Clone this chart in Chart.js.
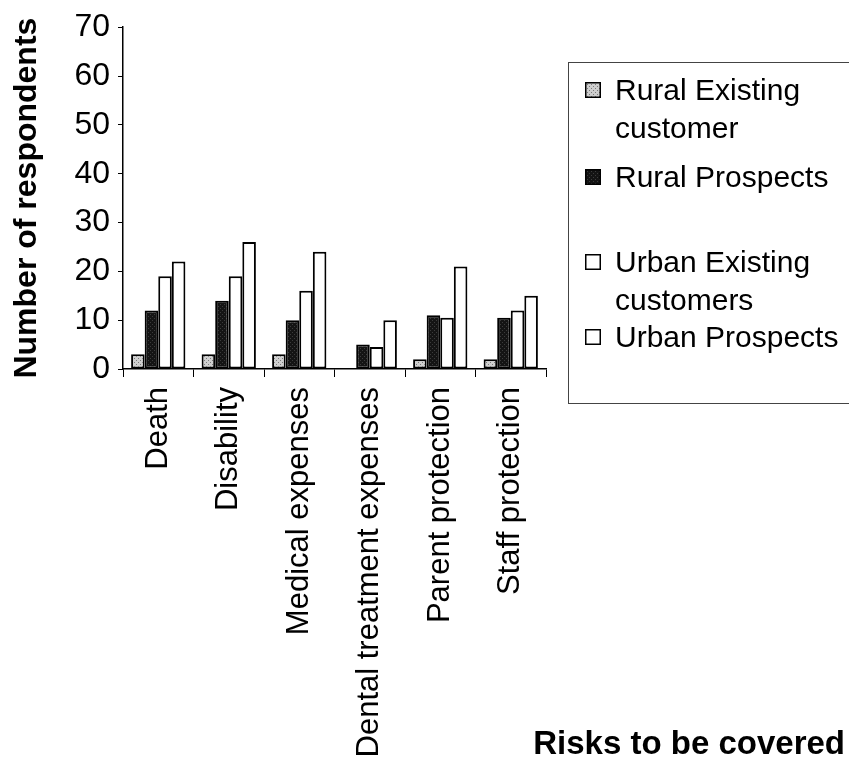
<!DOCTYPE html>
<html>
<head>
<meta charset="utf-8">
<script src="https://cdn.jsdelivr.net/npm/chart.js@4/dist/chart.umd.min.js"></script>
<style>
  body { margin: 0; background: #fff; }
  #wrap { position: relative; width: 849px; height: 767px; overflow: hidden; font-family: 'Liberation Sans', Arial, sans-serif; }
  #legend { position: absolute; left: 568px; top: 62px; width: 300px; height: 340px; border: 1px solid #444; }
  .item { position: absolute; left: 16px; font-size: 30px; line-height: 38px; color: #000; white-space: pre-line; }
  .item canvas { position: absolute; left: 0; top: 11px; }
  .item span { display: block; margin-left: 30px; }
  #xtitle { position: absolute; right: 4px; top: 724px; font-size: 33px; font-weight: bold; color: #000; }
</style>
</head>
<body>
<div id="wrap">
  <canvas id="riskChart" width="849" height="767"></canvas>
  <div id="legend"></div>
  <div id="xtitle">Risks to be covered</div>
</div>
<script>
'use strict';
// data
var categories = ['Death', 'Disability', 'Medical expenses', 'Dental treatment expenses', 'Parent protection', 'Staff protection'];
var seriesNames = ['Rural Existing\ncustomer', 'Rural Prospects', 'Urban Existing\ncustomers', 'Urban Prospects'];
var ruralExisting = [3, 3, 3, 0, 2, 2];
var ruralProspects = [12, 14, 10, 5, 11, 10.5];
var urbanExisting = [19, 19, 16, 4.5, 10.5, 12];
var urbanProspects = [22, 26, 24, 10, 21, 15];
var yTicks = [0, 10, 20, 30, 40, 50, 60, 70];

// little dotted fills like the scanned bars
function makePattern(bg, dot) {
  var c = document.createElement('canvas');
  c.width = 4;
  c.height = 4;
  var x = c.getContext('2d');
  x.fillStyle = bg;
  x.fillRect(0, 0, 4, 4);
  x.fillStyle = dot;
  x.fillRect(0, 0, 1, 1);
  x.fillRect(2, 2, 1, 1);
  return x.createPattern(c, 'repeat');
}
var greyFill = makePattern('#cfcfcf', '#7a7a7a');
var blackFill = makePattern('#141414', '#3c3c3c');
var fills = [greyFill, blackFill, '#ffffff', '#ffffff'];
var allValues = [ruralExisting, ruralProspects, urbanExisting, urbanProspects];

var datasets = [];
for (var i = 0; i < seriesNames.length; i++) {
  datasets.push({
    label: seriesNames[i],
    data: allValues[i],
    backgroundColor: fills[i],
    borderColor: '#000',
    borderWidth: 2,
    borderSkipped: false,
    categoryPercentage: 0.77,
    barPercentage: 1
  });
}

var ctx = document.getElementById('riskChart').getContext('2d');
var chart = new Chart(ctx, {
  type: 'bar',
  data: { labels: categories, datasets: datasets },
  options: {
    responsive: false,
    animation: false,
    devicePixelRatio: 1,
    layout: { padding: { top: 25, right: 303, bottom: 0, left: 0 } },
    plugins: { legend: { display: false }, tooltip: { enabled: false } },
    scales: {
      x: {
        afterFit: function (s) { s.height = 398; },
        grid: { drawOnChartArea: false, tickLength: 8, color: '#000', offset: true },
        border: { color: '#000', width: 1.5 },
        ticks: {
          minRotation: 90, maxRotation: 90, padding: 10, color: '#000', autoSkip: false,
          font: { family: "'Liberation Sans', Arial, sans-serif", size: 31 }
        }
      },
      y: {
        min: 0,
        max: 70,
        afterFit: function (s) { s.width = 123; },
        afterBuildTicks: function (s) { s.ticks = yTicks.map(function (v) { return { value: v }; }); },
        grid: { drawOnChartArea: false, tickLength: 5, color: '#000' },
        border: { color: '#000', width: 1.5 },
        ticks: {
          padding: 8, color: '#000',
          font: { family: "'Liberation Sans', Arial, sans-serif", size: 32 }
        },
        title: {
          display: true,
          text: 'Number of respondents',
          color: '#000',
          padding: { top: 8, bottom: 0 },
          font: { family: "'Liberation Sans', Arial, sans-serif", size: 32, weight: 'bold' }
        }
      }
    }
  }
});

// legend box, built from the chart's own datasets
var legendTops = [8, 95, 180, 255];
var legendEl = document.getElementById('legend');
chart.data.datasets.forEach(function (ds, k) {
  var item = document.createElement('div');
  item.className = 'item';
  item.style.top = legendTops[k] + 'px';
  var sw = document.createElement('canvas');
  sw.width = 16;
  sw.height = 16;
  var sctx = sw.getContext('2d');
  sctx.fillStyle = ds.backgroundColor;
  sctx.fillRect(0, 0, 16, 16);
  sctx.strokeStyle = '#000';
  sctx.lineWidth = 1.5;
  sctx.strokeRect(0.75, 0.75, 14.5, 14.5);
  var txt = document.createElement('span');
  txt.textContent = ds.label;
  item.appendChild(sw);
  item.appendChild(txt);
  legendEl.appendChild(item);
});
</script>
</body>
</html>
